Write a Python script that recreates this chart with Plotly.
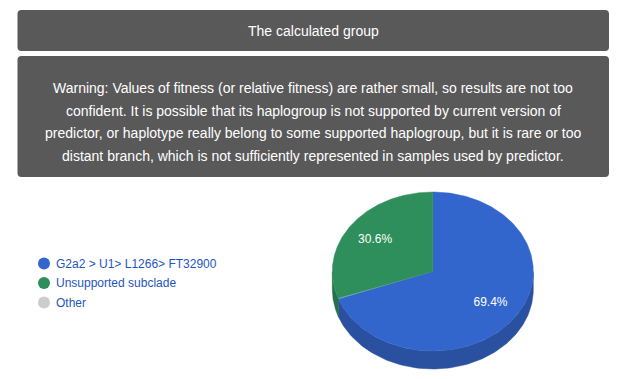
import numpy as np
import plotly.graph_objects as go

# ---------------- data ----------------
labels = ["G2a2 > U1> L1266> FT32900", "Unsupported subclade", "Other"]
values = [69.4, 30.6, 0.0]
top_colors = ["#3366cc", "#2e8f5c", "#cccccc"]
side_colors = ["#2a50a0", "#25714a", "#a6a6a6"]

title_text = "The calculated group"
warning_lines = [
    "Warning: Values of fitness (or relative fitness) are rather small, so results are not too",
    "confident. It is possible that its haplogroup is not supported by current version of",
    "predictor, or haplotype really belong to some supported haplogroup, but it is rare or too",
    "distant branch, which is not sufficiently represented in samples used by predictor.",
]

# ---------------- layout constants ----------------
W, H = 624, 379
OFF = 8  # default page body margin
CX, CY, RX, RY, DEPTH = 432.8, 271.5, 100.5, 79.5, 18
LABEL_F = 0.7
FONT = "Liberation Sans, Arial, sans-serif"
BOX_COLOR = "#595959"
LEGEND_COLOR = "#1f55c0"


def pt(theta_deg, dy=0.0, f=1.0):
    t = np.radians(theta_deg)
    return CX + RX * f * np.sin(t), CY - RY * f * np.cos(t) + dy


def rounded_rect(x0, y0, x1, y1, r):
    return (f"M{x0+r},{y0} L{x1-r},{y0} Q{x1},{y0} {x1},{y0+r} "
            f"L{x1},{y1-r} Q{x1},{y1} {x1-r},{y1} L{x0+r},{y1} "
            f"Q{x0},{y1} {x0},{y1-r} L{x0},{y0+r} Q{x0},{y0} {x0+r},{y0} Z")


fig = go.Figure()

total = float(sum(values))
starts, ends = [], []
acc = 0.0
for v in values:
    starts.append(acc / total * 360.0)
    acc += v
    ends.append(acc / total * 360.0)

# side walls (front half only)
for i, v in enumerate(values):
    if v <= 0:
        continue
    a, b = max(starts[i], 90.0), min(ends[i], 270.0)
    if b <= a:
        continue
    th = np.linspace(a, b, 120)
    xt, yt = pt(th)
    xb, yb = pt(th[::-1], dy=DEPTH)
    fig.add_trace(go.Scatter(
        x=np.concatenate([xt, xb, xt[:1]]), y=np.concatenate([yt, yb, yt[:1]]),
        mode="lines", fill="toself", fillcolor=side_colors[i],
        line=dict(width=0.5, color=side_colors[i]), hoverinfo="skip", showlegend=False))

# top faces
for i, v in enumerate(values):
    if v <= 0:
        continue
    th = np.linspace(starts[i], ends[i], 240)
    xs, ys = pt(th)
    fig.add_trace(go.Scatter(
        x=np.concatenate([[CX], xs, [CX]]), y=np.concatenate([[CY], ys, [CY]]),
        mode="lines", fill="toself", fillcolor=top_colors[i],
        line=dict(width=0.5, color=top_colors[i]), hoverinfo="skip", showlegend=False))

# slice labels
lx, ly, lt = [], [], []
for i, v in enumerate(values):
    if v <= 0:
        continue
    x, y = pt((starts[i] + ends[i]) / 2.0, f=LABEL_F)
    lx.append(x); ly.append(y); lt.append(f"{v / total * 100:.1f}%")
fig.add_trace(go.Scatter(x=lx, y=ly, text=lt, mode="text",
                         textfont=dict(family=FONT, size=12, color="white"),
                         hoverinfo="skip", showlegend=False))

# legend (custom)
LEG_X, LEG_Y0, LEG_DY = 44, 263.5, 19.5
for i, lab in enumerate(labels):
    y = LEG_Y0 + i * LEG_DY
    fig.add_trace(go.Scatter(x=[LEG_X], y=[y], mode="markers",
                             marker=dict(size=12, color=top_colors[i]),
                             hoverinfo="skip", showlegend=False))
    fig.add_annotation(x=LEG_X + 10, y=y, text=lab, showarrow=False,
                       xanchor="left", yanchor="middle",
                       font=dict(family=FONT, size=12, color=LEGEND_COLOR))

# header boxes
shapes = [
    dict(type="path", path=rounded_rect(17.5, 10, 609, 51, 4), xref="x", yref="y",
         fillcolor=BOX_COLOR, line=dict(width=0), layer="below"),
    dict(type="path", path=rounded_rect(17.5, 56, 609, 177, 4), xref="x", yref="y",
         fillcolor=BOX_COLOR, line=dict(width=0), layer="below"),
]
fig.add_annotation(x=313.25, y=30.5, text=title_text, showarrow=False,
                   xanchor="center", yanchor="middle",
                   font=dict(family=FONT, size=14, color="white"))
for j, line in enumerate(warning_lines):
    fig.add_annotation(x=313.25, y=88 + j * 22.5, text=line, showarrow=False,
                       xanchor="center", yanchor="middle",
                       font=dict(family=FONT, size=14, color="white"))

fig.update_layout(
    width=W - OFF, height=H - OFF, margin=dict(l=0, r=0, t=0, b=0),
    paper_bgcolor="white", plot_bgcolor="white",
    xaxis=dict(range=[OFF, W], visible=False, fixedrange=True),
    yaxis=dict(range=[H, OFF], visible=False, fixedrange=True),
    shapes=shapes, showlegend=False,
)

fig.write_html("out.html", config={"displayModeBar": False})
